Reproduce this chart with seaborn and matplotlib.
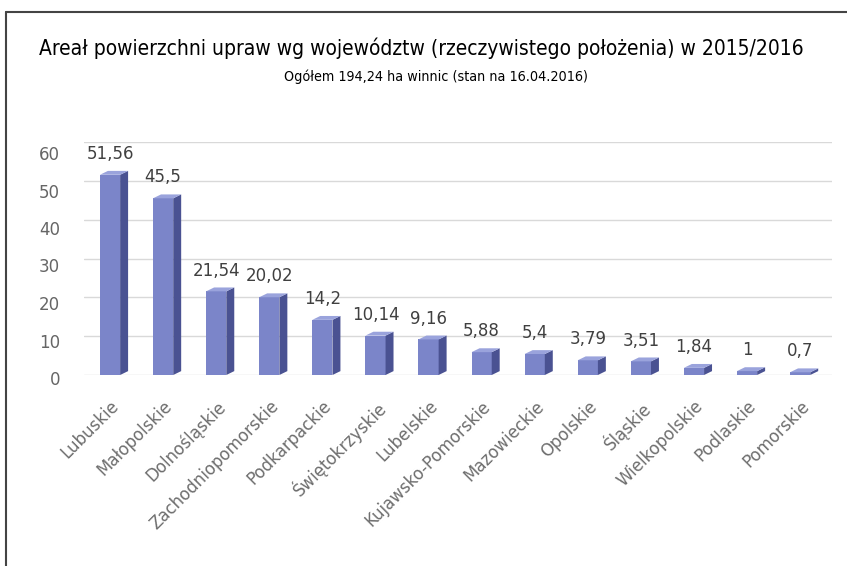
import numpy as np
import pandas as pd
import seaborn as sns
import matplotlib.pyplot as plt
from matplotlib.patches import Polygon
from matplotlib.lines import Line2D
import matplotlib.transforms as mtransforms

# data
regions = ["Lubuskie", "Małopolskie", "Dolnośląskie", "Zachodniopomorskie", "Podkarpackie",
           "Świętokrzyskie", "Lubelskie", "Kujawsko-Pomorskie", "Mazowieckie", "Opolskie",
           "Śląskie", "Wielkopolskie", "Podlaskie", "Pomorskie"]
area_ha = [51.56, 45.5, 21.54, 20.02, 14.2, 10.14, 9.16, 5.88, 5.4, 3.79, 3.51, 1.84, 1, 0.7]
yticks = [0, 10, 20, 30, 40, 50, 60]

title = "Areał powierzchni upraw wg województw (rzeczywistego położenia) w 2015/2016"
subtitle = "Ogółem 194,24 ha winnic (stan na 16.04.2016)"

df = pd.DataFrame({"region": regions, "area": area_ha})

sns.set_theme(style="white")
plt.rcParams["font.family"] = ["DejaVu Sans"]

front_col = "#7b85c9"
side_col = "#4a5292"
top_col = "#9aa3dc"

fig = plt.figure(figsize=(8.47, 5.66), dpi=100)
W, H = 847, 566
ax = fig.add_axes([83.5 / W, 1 - 375 / H, (832 - 83.5) / W, (375 - 142) / H])

sns.barplot(data=df, x="region", y="area", color=front_col, saturation=1,
            width=0.38, ax=ax, zorder=3, edgecolor="none")

# fake 3D: side and top faces
dx, dy = 0.15, 1.0
for p in ax.patches[:len(regions)]:
    x0 = p.get_x()
    x1 = x0 + p.get_width()
    h = p.get_height()
    ax.add_patch(Polygon([(x1, 0), (x1 + dx, dy), (x1 + dx, h + dy), (x1, h)],
                         closed=True, facecolor=side_col, edgecolor="none", zorder=3))
    ax.add_patch(Polygon([(x0, h), (x1, h), (x1 + dx, h + dy), (x0 + dx, h + dy)],
                         closed=True, facecolor=top_col, edgecolor="none", zorder=3))

# value labels
for i, v in enumerate(area_ha):
    ax.annotate(f"{v:g}".replace(".", ","), (i, v), xytext=(0, 15),
                textcoords="offset points", ha="center", va="center",
                fontsize=12, color="#404040", zorder=5)

ax.set_xlim(-0.5, 13.6)
ax.set_ylim(0, 60)
ax.set_yticks(yticks)
ax.set_yticklabels([str(t) for t in yticks], fontsize=12, color="#666666")
ax.tick_params(axis="y", length=0, pad=17)
for t, lab in zip(yticks, ax.get_yticklabels()):
    off = mtransforms.ScaledTranslation(0, -(3 + t / 60 * 8) / 100, fig.dpi_scale_trans)
    lab.set_transform(lab.get_transform() + off)

ax.set_xticks(range(len(regions)))
ax.set_xticklabels(regions, rotation=45, ha="right", rotation_mode="anchor",
                   fontsize=12, color="#6e6e6e")
ax.tick_params(axis="x", length=0, pad=16)

ax.grid(axis="y", color="#d9d9d9", linewidth=1, zorder=0)
ax.grid(axis="x", visible=False)
ax.set_xlabel("")
ax.set_ylabel("")
for s in ax.spines.values():
    s.set_visible(False)

fig.text(0.497, 1 - 48 / H, title, ha="center", va="center", fontsize=15,
         family=["Liberation Sans Narrow", "DejaVu Sans"], stretch="condensed", color="#000000")
fig.text(0.515, 1 - 77 / H, subtitle, ha="center", va="center", fontsize=10.3,
         family=["Liberation Sans Narrow", "DejaVu Sans"], stretch="condensed", color="#000000")

# outer frame (top and left only)
fig.add_artist(Line2D([6 / W, 1], [1 - 12 / H, 1 - 12 / H], color="#444444", lw=1.5))
fig.add_artist(Line2D([6 / W, 6 / W], [0, 1 - 12 / H], color="#444444", lw=1.5))

fig.savefig("out.png", dpi=100)
